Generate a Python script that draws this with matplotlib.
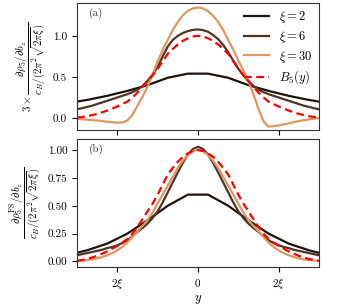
import matplotlib
matplotlib.use("Agg")
import matplotlib.pyplot as plt
import numpy as np

plt.rcParams["font.family"] = "serif"
plt.rcParams["font.serif"] = ["cmr10"]
plt.rcParams["mathtext.fontset"] = "cm"
plt.rcParams["axes.formatter.use_mathtext"] = True

# y in units of xi
y_grid = np.arange(-3.0, 3.001, 0.125)
y_nodes_xi2 = np.arange(-3.25, 3.26, 0.5)

# panel (a): 3 x d rho_5 / d b_z (normalised)
a_xi2 = [0.18, 0.22, 0.27, 0.33, 0.40, 0.49, 0.54, 0.54, 0.49, 0.40, 0.33, 0.27, 0.22, 0.18]
a_xi6 = [0.106, 0.12, 0.135, 0.15, 0.17, 0.19, 0.21, 0.23, 0.25, 0.27, 0.29, 0.315, 0.345,
         0.39, 0.45, 0.53, 0.62, 0.75, 0.87, 0.95, 1.0, 1.035, 1.058, 1.073, 1.078,
         1.07, 1.05, 1.01, 0.96, 0.89, 0.80, 0.70, 0.60, 0.52, 0.45, 0.39, 0.345, 0.315,
         0.29, 0.27, 0.25, 0.23, 0.21, 0.19, 0.17, 0.15, 0.135, 0.12, 0.106]
a_xi30 = [-0.01, -0.015, -0.02, -0.025, -0.03, -0.037, -0.045, -0.052, -0.057, -0.055,
          -0.03, 0.04, 0.15, 0.26, 0.38, 0.53, 0.69, 0.83, 0.95, 1.07, 1.17, 1.25, 1.305,
          1.335, 1.345, 1.335, 1.30, 1.245, 1.17, 1.07, 0.95, 0.83, 0.70, 0.58, 0.45, 0.29,
          0.11, -0.04, -0.105, -0.10, -0.09, -0.078, -0.065, -0.05, -0.037, -0.026, -0.016,
          -0.008, 0.0]

# panel (b): d rho_5^FS / d b_z (normalised)
b_xi2 = [0.055, 0.10, 0.16, 0.25, 0.37, 0.50, 0.60, 0.60, 0.50, 0.37, 0.25, 0.16, 0.10, 0.055]
b_xi6 = [0.055, 0.065, 0.075, 0.085, 0.095, 0.105, 0.12, 0.13, 0.145, 0.165, 0.19, 0.225,
         0.265, 0.30, 0.34, 0.39, 0.45, 0.53, 0.62, 0.71, 0.80, 0.885, 0.96, 1.01, 1.03,
         1.01, 0.96, 0.885, 0.80, 0.71, 0.62, 0.53, 0.45, 0.39, 0.34, 0.30, 0.265, 0.225,
         0.19, 0.165, 0.145, 0.13, 0.12, 0.105, 0.095, 0.085, 0.075, 0.065, 0.055]
b_xi30 = [0.005, 0.008, 0.012, 0.018, 0.027, 0.04, 0.055, 0.075, 0.10, 0.13, 0.17, 0.22,
          0.27, 0.32, 0.37, 0.44, 0.52, 0.60, 0.68, 0.76, 0.84, 0.905, 0.955, 0.99, 1.005,
          0.99, 0.955, 0.905, 0.84, 0.76, 0.68, 0.60, 0.52, 0.44, 0.37, 0.32, 0.27, 0.22,
          0.17, 0.13, 0.10, 0.075, 0.055, 0.04, 0.027, 0.018, 0.012, 0.008, 0.005]

# B_5(y), same in both panels
b5 = [0.005, 0.012, 0.022, 0.035, 0.05, 0.07, 0.09, 0.115, 0.14, 0.17, 0.20, 0.25, 0.31,
      0.38, 0.45, 0.52, 0.60, 0.69, 0.78, 0.84, 0.895, 0.94, 0.97, 0.993, 1.0,
      0.993, 0.97, 0.94, 0.895, 0.84, 0.78, 0.69, 0.60, 0.52, 0.45, 0.38, 0.31, 0.25,
      0.20, 0.17, 0.14, 0.115, 0.09, 0.07, 0.05, 0.035, 0.022, 0.012, 0.005]

c2, c6, c30 = "#1e130c", "#4f3424", "#e0975f"
lw = 1.6
dash = (0, (3.5, 2))

fig = plt.figure(figsize=(3.39, 3.07), dpi=100)
ax_a = fig.add_axes([0.227, 0.5765, 0.714, 0.4137])
ax_b = fig.add_axes([0.227, 0.1303, 0.714, 0.417])

ax_a.plot(y_nodes_xi2, a_xi2, color=c2, lw=lw, label=r"$\xi=2$")
ax_a.plot(y_grid, a_xi6, color=c6, lw=lw, label=r"$\xi=6$")
ax_a.plot(y_grid, a_xi30, color=c30, lw=lw, label=r"$\xi=30$")
ax_a.plot(y_grid, b5, color="red", lw=lw, ls=dash, label=r"$B_5(y)$")

ax_b.plot(y_nodes_xi2, b_xi2, color=c2, lw=lw)
ax_b.plot(y_grid, b_xi6, color=c6, lw=lw)
ax_b.plot(y_grid, b_xi30, color=c30, lw=lw)
ax_b.plot(y_grid, b5, color="red", lw=lw, ls=dash)

for ax in (ax_a, ax_b):
    ax.set_xlim(-3, 3)
    ax.set_xticks([-2, 0, 2])
    ax.tick_params(labelsize=8, length=3.5, width=0.8)
    for s in ax.spines.values():
        s.set_color("#333333")

ax_a.set_ylim(-0.146, 1.40)
ax_a.set_yticks([0.0, 0.5, 1.0])
ax_a.set_yticklabels(["0.0", "0.5", "1.0"])
ax_a.set_xticklabels([])
ax_a.set_ylabel(r"$3\times\dfrac{\partial\rho_5/\partial b_z}{c_B/(2\pi^2\sqrt{2\pi\xi})}$",
                fontsize=7.8, labelpad=4)
ax_a.text(0.05, 0.9, "(a)", transform=ax_a.transAxes, fontsize=8, color="#333333")
ax_a.legend(loc="upper right", frameon=False, fontsize=9, handlelength=2.0,
            handletextpad=0.8, labelspacing=0.3, borderaxespad=0.1)

ax_b.set_ylim(-0.05, 1.10)
ax_b.set_yticks([0.0, 0.25, 0.5, 0.75, 1.0])
ax_b.set_yticklabels(["0.00", "0.25", "0.50", "0.75", "1.00"])
ax_b.set_xticklabels([r"$2\xi$", r"$0$", r"$2\xi$"])
ax_b.set_xlabel(r"$y$", fontsize=9, labelpad=2)
ax_b.set_ylabel(r"$\dfrac{\partial\rho_5^{\mathrm{FS}}/\partial b_z}{c_B/(2\pi^2\sqrt{2\pi\xi})}$",
                fontsize=7.8, labelpad=4)
ax_b.text(0.05, 0.9, "(b)", transform=ax_b.transAxes, fontsize=8, color="#333333")

fig.savefig("out.png", dpi=100)
